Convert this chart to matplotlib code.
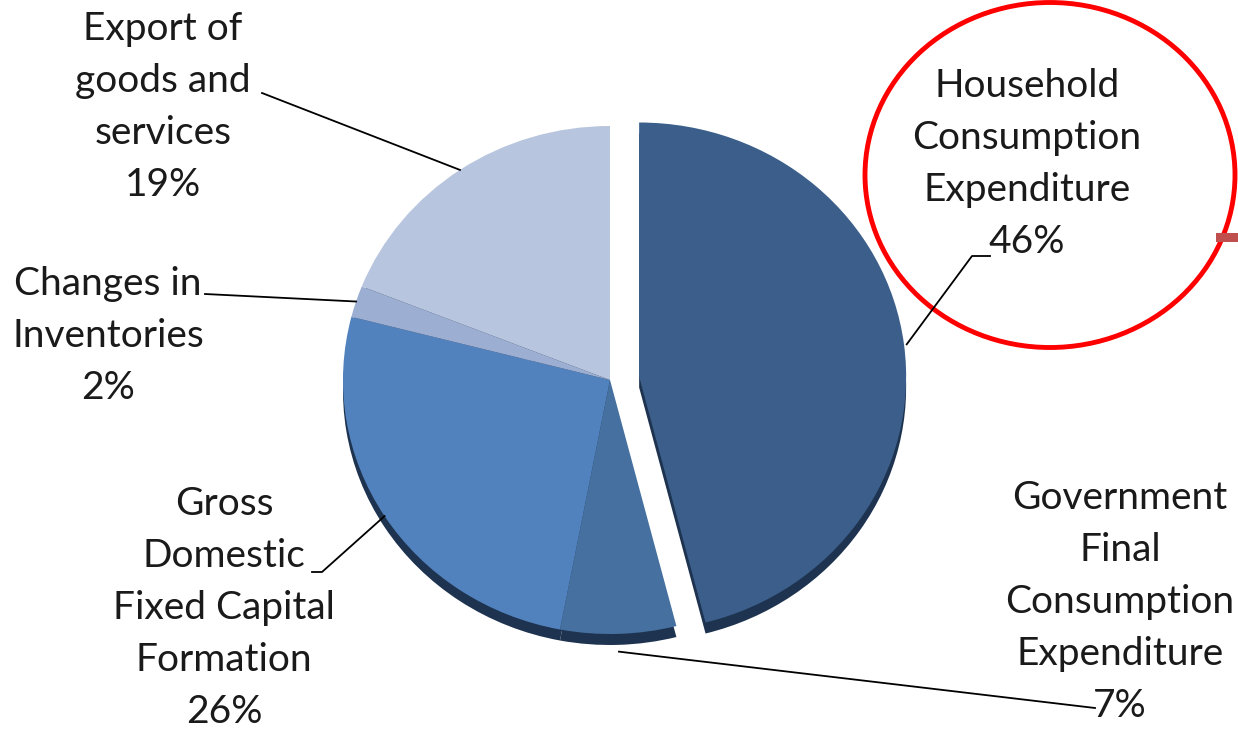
import numpy as np
import matplotlib.pyplot as plt
from matplotlib.patches import Ellipse, Rectangle
from matplotlib.transforms import Affine2D

plt.rcParams['font.family'] = ['Lato', 'DejaVu Sans']

# data
labels = ['Household\nConsumption\nExpenditure', 'Government\nFinal\nConsumption\nExpenditure',
          'Gross\nDomestic\nFixed Capital\nFormation', 'Changes in\nInventories',
          'Export of\ngoods and\nservices']
shares = [46, 7, 26, 2, 19]
colors = ['#3b5f8a', '#45709f', '#5182bd', '#9caed2', '#b8c5de']
explode = [0.11, 0, 0, 0, 0]

W, H = 1238, 732
fig = plt.figure(figsize=(W / 100, H / 100), dpi=100)
ax = fig.add_axes([0, 0, 1, 1])

# pie geometry in pixels (slightly squashed, like the 3D original)
cx, cy, rx, ry = 610, H - 380, 267, 254
face = Affine2D().scale(rx, ry).translate(cx, cy) + ax.transData
side = Affine2D().scale(rx, ry).translate(cx, cy - 11) + ax.transData

shadow, _ = ax.pie(shares, colors=['#1e3350'] * 5, explode=explode, startangle=90,
                   counterclock=False, radius=1, wedgeprops=dict(linewidth=0))
wedges, _ = ax.pie(shares, colors=colors, explode=explode, startangle=90,
                   counterclock=False, radius=1, wedgeprops=dict(linewidth=0))
for w in shadow:
    w.set_transform(side)
for w in wedges:
    w.set_transform(face)

ax.set_xlim(0, W)
ax.set_ylim(0, H)
ax.set_aspect('auto')
ax.axis('off')

# label layout: text block center (px), leader elbow points (px)
txt_pos = [(1027, 164), (1120, 602), (224, 608), (108, 336), (163, 107)]
elbows = [[(972, 256), (990, 256)],
          [(1095, 708)],
          [(322, 572), (312, 572)],
          [(205, 294)],
          [(262, 93)]]
rim = [1.01, 1.07, 1.0, 1.0, 1.0]

tc = '#1a1a1a'
for w, lab, v, (tx, ty), el, rf in zip(wedges, labels, shares, txt_pos, elbows, rim):
    ang = np.deg2rad((w.theta1 + w.theta2) / 2)
    ox, oy = w.center
    px = cx + rx * (ox + rf * np.cos(ang))
    py = cy + ry * (oy + rf * np.sin(ang))
    xs = [px] + [e[0] for e in el]
    ys = [py] + [H - e[1] for e in el]
    ax.plot(xs, ys, color='black', lw=1.3)
    ax.text(tx, H - ty, f'{lab}\n{v}%', ha='center', va='center', fontsize=28,
            color=tc, linespacing=1.56)

# red highlight circle
ax.add_patch(Ellipse((1050, H - 175), 370, 345, fill=False, ec='#ff0000', lw=3.5))
ax.add_patch(Rectangle((1216, H - 242), 30, 9, fc='#c0504d', ec='none'))

fig.savefig('out.png', dpi=100)
